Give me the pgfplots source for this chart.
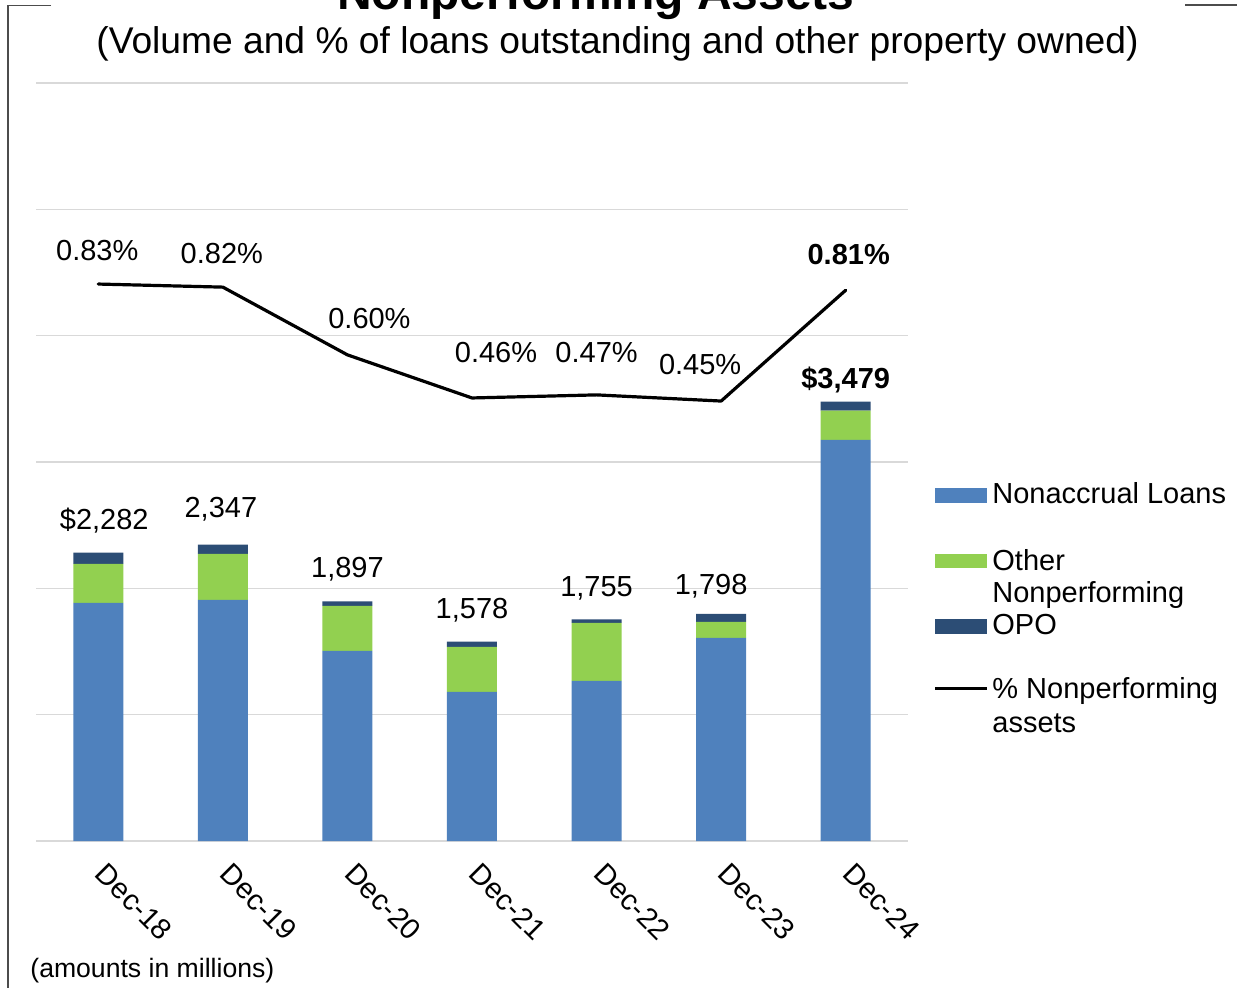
\documentclass[border=0pt]{standalone}
\usepackage{pgfplots}
\pgfplotsset{compat=1.18}
\usepackage{fontspec}
\setmainfont{Liberation Sans}
\definecolor{cBlue}{HTML}{4F81BD}
\definecolor{cGreen}{HTML}{92D050}
\definecolor{cNavy}{HTML}{2C4D75}
\definecolor{cGrid}{HTML}{D9D9D9}
\newcommand{\fs}{\fontsize{14.5}{17}\selectfont}
\pgfplotstableread{
x nonacc other opo pct
0 1885 309 88 0.83
1 1909 364 74 0.82
2 1505 356 36 0.60
3 1180 357 41 0.46
4 1267 460 28 0.47
5 1608 126 64 0.45
6 3176 230 73 0.81
}\datatable
\begin{document}
\begin{tikzpicture}
\useasboundingbox (0pt,0pt) rectangle (618.5pt,-493.5pt);
% frame
\draw[line width=0.75pt, black!70] (25.5pt,-2.75pt) -- (4pt,-2.75pt) -- (4pt,-500pt);
\draw[line width=0.75pt, black!70] (592.5pt,-2.5pt) -- (625pt,-2.5pt);
\node[font=\fontsize{24}{28}\selectfont\bfseries, anchor=base, inner sep=0pt] at (298pt,-4.5pt) {Nonperforming Assets};
\node[font=\fontsize{18.6}{22}\selectfont, anchor=base, inner sep=0pt] at (308.75pt,-26.5pt) {(Volume and \% of loans outstanding and other property owned)};

\begin{axis}[at={(18pt,-420.5pt)}, anchor=south west, scale only axis,
  width=436pt, height=379pt,
  xmin=-0.5, xmax=6.5, ymin=0, ymax=6000,
  ytick={0,1000,...,6000}, yticklabels={},
  ymajorgrids, grid style={cGrid, line width=0.8pt},
  axis line style={draw=none}, major tick length=0pt,
  xtick={0,...,6},
  xticklabels={Dec-18,Dec-19,Dec-20,Dec-21,Dec-22,Dec-23,Dec-24},
  xticklabel style={xshift=5pt, yshift=2pt, rotate=-45, anchor=north west, inner sep=0pt, font=\fs},
  xticklabel shift=12pt,
  ybar stacked, bar width=25pt,
  clip=false,
]
\addplot[fill=cBlue, draw=none] table[x=x, y=nonacc] {\datatable};
\addplot[fill=cGreen, draw=none] table[x=x, y=other] {\datatable};
\addplot[fill=cNavy, draw=none] table[x=x, y=opo] {\datatable};
\node[font=\fs, xshift=3pt, yshift=16pt] at (axis cs:0,2282) {\$2,282};
\node[font=\fs, xshift=-1pt, yshift=17.5pt] at (axis cs:1,2347) {2,347};
\node[font=\fs, yshift=16pt] at (axis cs:2,1897) {1,897};
\node[font=\fs, yshift=15.5pt] at (axis cs:3,1578) {1,578};
\node[font=\fs, yshift=15.5pt] at (axis cs:4,1755) {1,755};
\node[font=\fs, xshift=-5pt, yshift=14pt] at (axis cs:5,1798) {1,798};
\node[font=\fs\bfseries, yshift=11pt] at (axis cs:6,3479) {\$3,479};
\end{axis}

\begin{axis}[at={(18pt,-420.5pt)}, anchor=south west, scale only axis,
  width=436pt, height=379pt,
  xmin=-0.5, xmax=6.5, ymin=-0.979, ymax=1.483,
  hide axis, clip=false,
]
\addplot[black, line width=1.6pt, line join=round, line cap=round, mark=none] table[x=x, y=pct] {\datatable};
\node[font=\fs, xshift=-0.5pt, yshift=17pt] at (axis cs:0,0.83) {0.83\%};
\node[font=\fs, xshift=-0.5pt, yshift=17pt] at (axis cs:1,0.82) {0.82\%};
\node[font=\fs, xshift=11pt, yshift=18pt] at (axis cs:2,0.60) {0.60\%};
\node[font=\fs, xshift=12pt, yshift=22.5pt] at (axis cs:3,0.46) {0.46\%};
\node[font=\fs, yshift=21pt] at (axis cs:4,0.47) {0.47\%};
\node[font=\fs, xshift=-10.5pt, yshift=18.5pt] at (axis cs:5,0.45) {0.45\%};
\node[font=\fs\bfseries, xshift=1.5pt, yshift=18pt] at (axis cs:6,0.81) {0.81\%};
\end{axis}

% legend
\fill[cBlue] (467.5pt,-243.75pt) rectangle (493.6pt,-251.35pt);
\fill[cGreen] (467.5pt,-276.75pt) rectangle (493.6pt,-283.8pt);
\fill[cNavy] (467.5pt,-309.4pt) rectangle (493.6pt,-317pt);
\draw[black, line width=1.5pt] (467.5pt,-344pt) -- (493.6pt,-344pt);
\node[font=\fs, anchor=base west, inner sep=0pt] at (496pt,-251.85pt) {Nonaccrual Loans};
\node[font=\fs, anchor=base west, inner sep=0pt] at (496pt,-285pt) {Other};
\node[font=\fs, anchor=base west, inner sep=0pt] at (496pt,-301pt) {Nonperforming};
\node[font=\fs, anchor=base west, inner sep=0pt] at (496pt,-317pt) {OPO};
\node[font=\fs, anchor=base west, inner sep=0pt] at (496pt,-349pt) {\% Nonperforming};
\node[font=\fs, anchor=base west, inner sep=0pt] at (496pt,-366.3pt) {assets};
\node[font=\fontsize{13.3}{15}\selectfont, anchor=base west, inner sep=0pt] at (15pt,-488.75pt) {(amounts in millions)};
\end{tikzpicture}
\end{document}
